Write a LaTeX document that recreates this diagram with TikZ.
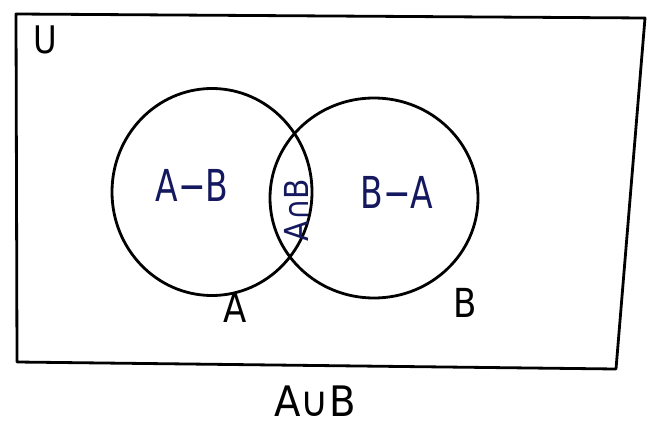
\documentclass[tikz,border=0pt]{standalone}
\usepackage{fontspec}
\setmainfont{DejaVu Sans}
\usetikzlibrary{shapes.geometric}
\newcommand{\narrow}[2]{\scalebox{#1}[1]{#2}}
\begin{document}
\begin{tikzpicture}[x=1pt,y=-1pt,
  ink/.style={line width=2.8pt,black,line join=round,line cap=round},
  setlabel/.style={text=black,inner sep=0pt,font=\fontsize{40}{40}\selectfont},
  regionlabel/.style={text=navyink,inner sep=0pt,font=\fontsize{44}{44}\selectfont}]
\definecolor{navyink}{RGB}{20,25,95}
\useasboundingbox (0,0) rectangle (652,428);
% universe rectangle
\coordinate (tl) at (16,14);
\coordinate (tr) at (645,18);
\coordinate (br) at (616,369);
\coordinate (bl) at (17,362);
\draw[ink] (tl) -- (tr) -- (br) -- (bl) -- cycle;
% circles
\node[ink,draw,ellipse,minimum width=200pt,minimum height=207pt,inner sep=0pt] (cA) at (212,192) {};
\node[ink,draw,ellipse,minimum width=208pt,minimum height=200pt,inner sep=0pt] (cB) at (374,198) {};
% labels
\node[setlabel,font=\fontsize{38}{38}\selectfont] (U) at (45,40) {\narrow{0.85}{U}};
\node[regionlabel] (AmB) at (192,185) {\narrow{0.75}{A−B}};
\node[regionlabel,font=\fontsize{33}{33}\selectfont,rotate=90] (AnB) at (296,210) {\narrow{0.9}{A∩B}};
\node[regionlabel] (BmA) at (397,192) {\narrow{0.75}{B−A}};
\node[setlabel] (A) at (235,308) {\narrow{0.85}{A}};
\node[setlabel] (B) at (465,303) {\narrow{0.85}{B}};
\node[setlabel,font=\fontsize{42}{42}\selectfont] (AuB) at (315,401) {\narrow{0.92}{A∪B}};
\end{tikzpicture}
\end{document}
